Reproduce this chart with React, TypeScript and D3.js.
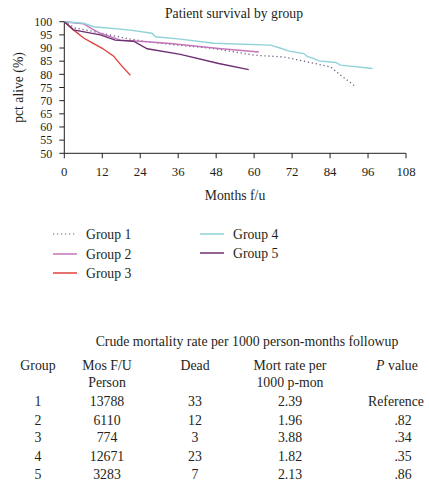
import React from "react";
import * as d3 from "d3";

const g1Months = [0, 3.5, 9, 14.6, 20, 26.2, 33.5, 47.2, 59.9, 69.4, 75.7, 84.2, 87.3, 91.8];
const g1Pct = [100, 97.6, 96.3, 94.9, 93.6, 92.4, 91.4, 89.8, 87.3, 86.6, 85.0, 82.8, 79.7, 75.6];
const g2Months = [0, 6.1, 9.3, 11.4, 17.7, 26.2, 33.5, 48.8, 61.5];
const g2Pct = [100, 99.2, 96.9, 95.6, 93.0, 92.4, 91.7, 89.8, 88.5];
const g3Months = [0, 3, 6.1, 9, 12, 15.6, 18, 20.9];
const g3Pct = [100, 96.8, 93.8, 91.9, 89.9, 86.9, 83.4, 79.6];
const g4Months = [0, 6.1, 9.3, 20.9, 27.7, 28.8, 36.7, 47.2, 65.2, 68.4, 71, 75.7, 76.8, 78.9, 80.5, 85.8, 87.3, 97.4];
const g4Pct = [100, 99.4, 98.1, 96.8, 95.6, 94.3, 93.4, 91.8, 91.1, 89.9, 88.8, 87.9, 86.8, 86.0, 85.1, 84.5, 83.5, 82.2];
const g5Months = [0, 2.9, 11.4, 16.1, 21.9, 26.2, 36.7, 48.8, 58.3];
const g5Pct = [100, 96.9, 95.0, 93.0, 92.6, 89.7, 87.6, 84.1, 81.8];

const groupNames = ["Group 1", "Group 2", "Group 3", "Group 4", "Group 5"];
const groupColors = ["#6a5a78", "#c474bc", "#e0403f", "#8fd2d8", "#6e2f72"];

const xTicks = [0, 12, 24, 36, 48, 60, 72, 84, 96, 108];
const yTicks = [50, 55, 60, 65, 70, 75, 80, 85, 90, 95, 100];

const tableTitle = "Crude mortality rate per 1000 person-months followup";
const tabGroup = ["1", "2", "3", "4", "5"];
const tabMos = ["13788", "6110", "774", "12671", "3283"];
const tabDead = ["33", "12", "3", "23", "7"];
const tabRate = ["2.39", "1.96", "3.88", "1.82", "2.13"];
const tabP = ["Reference", ".82", ".34", ".35", ".86"];

const FONT = "'Liberation Serif', 'DejaVu Serif', serif";
const INK = "#231f20";

export default function App() {
  const x = d3.scaleLinear().domain([0, 108]).range([64.3, 406]);
  const y = d3.scaleLinear().domain([50, 100]).range([153.3, 21.7]);
  const line = d3
    .line<[number, number]>()
    .x((d) => x(d[0]))
    .y((d) => y(d[1]));
  const series = [
    [g1Months, g1Pct],
    [g2Months, g2Pct],
    [g3Months, g3Pct],
    [g4Months, g4Pct],
    [g5Months, g5Pct],
  ].map(([m, p]) => m.map((t, i) => [t, p[i]] as [number, number]));

  const legendPos = [
    { x: 53, y: 234 },
    { x: 53, y: 254 },
    { x: 53, y: 273 },
    { x: 200, y: 234 },
    { x: 200, y: 253 },
  ];
  const rowY = [401.7, 420, 437.5, 456, 474];

  return (
    <svg
      width={429}
      height={486}
      style={{ position: "absolute", left: 0, top: 0, background: "#fff" }}
      fontFamily={FONT}
      fill={INK}
    >
      <text x={234} y={17.5} fontSize={13.7} textAnchor="middle">
        Patient survival by group
      </text>
      {/* y axis */}
      <line x1={x(0)} x2={x(0)} y1={y(100)} y2={y(50)} stroke={INK} strokeWidth={1} />
      {yTicks.map((t) => (
        <g key={"y" + t}>
          <line x1={x(0) - 5} x2={x(0)} y1={y(t)} y2={y(t)} stroke={INK} strokeWidth={1} />
          <text x={x(0) - 12} y={y(t) + 4.3} fontSize={12} textAnchor="end">
            {t}
          </text>
        </g>
      ))}
      {/* x axis */}
      <line x1={x(0)} x2={x(108)} y1={y(50)} y2={y(50)} stroke={INK} strokeWidth={1} />
      {xTicks.map((t) => (
        <g key={"x" + t}>
          <line x1={x(t)} x2={x(t)} y1={y(50)} y2={y(50) + 5} stroke={INK} strokeWidth={1} />
          <text x={x(t)} y={175.5} fontSize={12.8} textAnchor="middle">
            {t}
          </text>
        </g>
      ))}
      <text x={235} y={199.5} fontSize={13.7} textAnchor="middle">
        Months f/u
      </text>
      <text
        transform="translate(22.5,87.5) rotate(-90)"
        fontSize={13.7}
        textAnchor="middle"
      >
        pct alive (%)
      </text>
      {/* curves */}
      {series.map((s, i) => (
        <path
          key={"s" + i}
          d={line(s) || ""}
          fill="none"
          stroke={groupColors[i]}
          strokeWidth={i === 0 ? 1.3 : 1.4}
          strokeDasharray={i === 0 ? "1.2 2.8" : undefined}
        />
      ))}
      {/* legend */}
      {groupNames.map((n, i) => (
        <g key={"l" + i}>
          <line
            x1={legendPos[i].x}
            x2={legendPos[i].x + 24}
            y1={legendPos[i].y}
            y2={legendPos[i].y}
            stroke={groupColors[i]}
            strokeWidth={i === 0 ? 1.2 : 1.5}
            strokeDasharray={i === 0 ? "1.2 2.8" : undefined}
          />
          <text x={legendPos[i].x + 33} y={legendPos[i].y + 4.6} fontSize={13.7}>
            {n}
          </text>
        </g>
      ))}
      {/* table */}
      <g fontSize={13.8}>
        <text x={247} y={345.5} textAnchor="middle">
          {tableTitle}
        </text>
        <text x={38} y={369.5} textAnchor="middle">Group</text>
        <text x={107} y={369.5} textAnchor="middle">Mos F/U</text>
        <text x={107} y={386.5} textAnchor="middle">Person</text>
        <text x={195} y={369.5} textAnchor="middle">Dead</text>
        <text x={290} y={369.5} textAnchor="middle">Mort rate per</text>
        <text x={290} y={386.5} textAnchor="middle">1000 p-mon</text>
        <text x={397} y={369.5} textAnchor="middle">
          <tspan fontStyle="italic">P</tspan> value
        </text>
        {tabGroup.map((g, i) => (
          <g key={"r" + i}>
            <text x={38} y={rowY[i] + 4.6} textAnchor="middle">{g}</text>
            <text x={107} y={rowY[i] + 4.6} textAnchor="middle">{tabMos[i]}</text>
            <text x={195} y={rowY[i] + 4.6} textAnchor="middle">{tabDead[i]}</text>
            <text x={290} y={rowY[i] + 4.6} textAnchor="middle">{tabRate[i]}</text>
            <text x={i === 0 ? 396 : 403} y={rowY[i] + 4.6} textAnchor="middle">{tabP[i]}</text>
          </g>
        ))}
      </g>
    </svg>
  );
}
